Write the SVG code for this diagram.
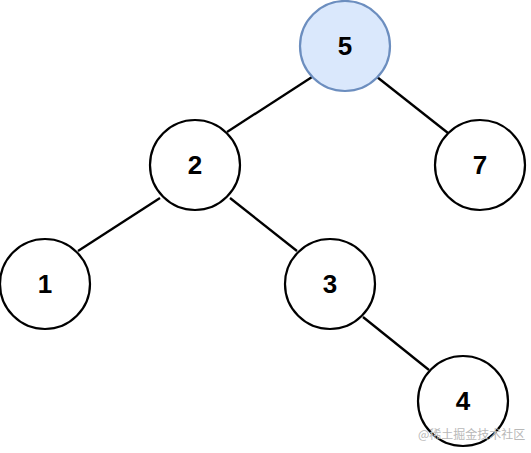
<svg xmlns="http://www.w3.org/2000/svg" width="531" height="453" viewBox="0 0 531 453">
<style>
.n circle{fill:#ffffff;stroke:#000000;stroke-width:2.2}
#n5 circle{fill:#dae8fc;stroke:#6c8ebf}
.n text{font-family:"Liberation Sans",Arial,sans-serif;font-weight:bold;font-size:26px;text-anchor:middle;fill:#000000}
.e line{stroke:#000000;stroke-width:2.3}
.wm{font-family:"Noto Sans CJK SC",sans-serif;font-size:12px;fill:#b8b8b8}
</style>
<rect width="531" height="453" fill="#ffffff"/>
<g id="edges" class="e">
<line x1="312" y1="77" x2="227" y2="132"/>
<line x1="377" y1="77" x2="448" y2="133"/>
<line x1="160" y1="198" x2="78" y2="251"/>
<line x1="230" y1="198" x2="297" y2="251"/>
<line x1="363" y1="317" x2="429" y2="370"/>
</g>
<g id="n5" class="n"><circle cx="345" cy="46" r="45"/><text x="345" y="55">5</text></g>
<g id="n2" class="n"><circle cx="195" cy="165" r="45"/><text x="195" y="174">2</text></g>
<g id="n7" class="n"><circle cx="480" cy="165" r="45"/><text x="480" y="174">7</text></g>
<g id="n1" class="n"><circle cx="45" cy="284" r="45"/><text x="45" y="293">1</text></g>
<g id="n3" class="n"><circle cx="330" cy="284" r="45"/><text x="330" y="293">3</text></g>
<g id="n4" class="n"><circle cx="463" cy="401" r="45"/><text x="463" y="410">4</text></g>
<text class="wm" x="418" y="439">@稀土掘金技术社区</text>
</svg>
